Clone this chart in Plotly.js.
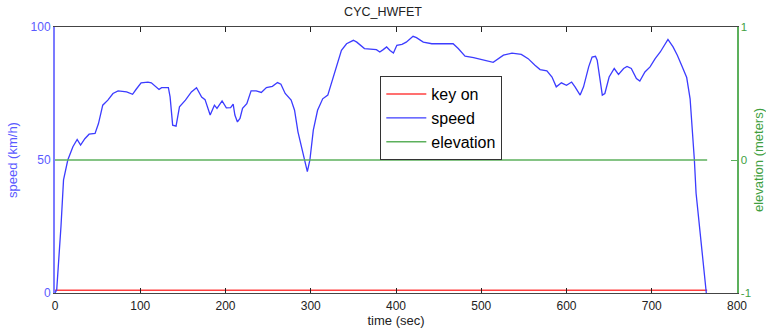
<!DOCTYPE html>
<html>
<head>
<meta charset="utf-8">
<script src="https://cdn.plot.ly/plotly-3.0.1.min.js"></script>
<style>html,body{margin:0;padding:0;background:#fff;}#chart{width:766px;height:333px;}</style>
</head>
<body>
<div id="chart"></div>
<script>
const timeSec = [0,2,7,10,15,21,26,30,35,40,47,51,56,62,68,74,84,91,95,101,109,113,122,125,133,135,138,142,146,153,160,166,172,176,182,187,190,196,201,206,209,211,214,217,220,225,230,236,242,248,255,261,265,270,277,281,285,289,293,296,299,303,308,314,320,328,336,342,350,354,363,377,381,385,389,393,397,401,407,412,420,424,432,442,455,467,473,481,491,504,514,526,536,547,555,563,569,577,583,588,594,600,606,610,616,620,626,630,634,636,639,642,645,650,656,661,667,671,676,682,686,692,698,704,710,714,719,725,730,735,741,745,747,750,752,756,760,764];
const speedKmh = [0,1.2,25,42.5,50,55,57.7,55.6,58,59.7,60,63.7,70.6,72.5,75,76,75.6,74.7,76.5,79,79.3,79,76.5,77.2,77.2,73.7,63.1,62.7,70,72.5,75.6,77.2,73.7,72.7,66.9,70.6,69.4,72.2,69.6,69.7,71,66.9,64.3,65.6,69.4,71.2,76,76,75.4,77.2,77.7,79.1,78.5,75,72.5,68.7,60.6,55,48.7,45.6,50,61.2,68.7,73,74.4,82.5,91.2,93.7,95,94.3,91.9,91.5,90.6,91.5,92.5,91.2,90.2,93.1,93.5,94.3,96.5,96,94.3,93.7,93.7,93.7,91.9,89,88.5,87.5,86.7,89.4,90.2,89.7,88.1,85.6,84,83.5,81.2,77.5,79,78.1,79.3,77.5,74.4,77.5,85,88.7,89,87.5,80,74.4,75,81.2,84.4,82.2,84.4,85.2,84.4,80.6,79.7,83.1,85,88.1,90.6,92.5,95.3,92.5,89.4,85.6,81,73,64,50,37.5,25,12.5,0];
const keyTime = [0,765];
const keyOn = [1,1];
const elevTime = [0,765];
const elevation = [0,0];
const xTicks = [0,100,200,300,400,500,600,700,800];
const yTicks = [0,50,100];
const y2Ticks = [-1,0,1];

const F = 'Liberation Sans, Arial, sans-serif';
const blue = '#5a5aff';
const green = '#3f9f3f';

const traces = [
  {x: keyTime, y: keyOn, name: 'key on', mode: 'lines', line: {color: '#ff4040', width: 1.5}, yaxis: 'y'},
  {x: timeSec, y: speedKmh, name: 'speed', mode: 'lines', line: {color: '#3c3cff', width: 1.3}, yaxis: 'y'},
  {x: elevTime, y: elevation, name: 'elevation', mode: 'lines', line: {color: '#5cb05c', width: 1.5}, yaxis: 'y2'}
];

const layout = {
  width: 766, height: 333,
  margin: {l: 55, r: 29, t: 27, b: 40},
  paper_bgcolor: '#fff', plot_bgcolor: '#fff',
  font: {family: F, size: 12, color: '#222'},
  title: {text: 'CYC_HWFET', font: {family: F, size: 12.5, color: '#222'}, x: 0.5, xanchor: 'center', y: 0.965, yanchor: 'middle'},
  showlegend: true,
  legend: {x: 0.477, y: 0.815, xanchor: 'left', yanchor: 'top', bgcolor: '#fff', bordercolor: '#333', borderwidth: 1,
           font: {family: F, size: 16, color: '#000'}, tracegroupgap: 0, itemwidth: 40},
  xaxis: {range: [0, 800], tickvals: xTicks, ticks: 'inside', ticklen: 5, tickcolor: '#222',
          showline: true, linecolor: '#444', linewidth: 1, mirror: 'ticks', showgrid: false, zeroline: false,
          tickfont: {family: F, size: 12, color: '#222'}, ticklabelstandoff: 2,
          title: {text: 'time (sec)', font: {family: F, size: 13, color: '#222'}, standoff: 3}},
  yaxis: {range: [0, 100], tickvals: yTicks, ticks: '', showline: true, linecolor: '#7b7bff', linewidth: 2,
          showgrid: false, zeroline: false, tickfont: {family: F, size: 12, color: blue},
          title: {text: 'speed (km/h)', font: {family: F, size: 13, color: blue}, standoff: 10}},
  yaxis2: {range: [-1, 1], tickvals: y2Ticks, ticktext: ['-1','0','1'], overlaying: 'y', side: 'right', ticks: 'inside', ticklen: 6,
           tickcolor: '#5cb05c', showline: true, linecolor: '#5cb05c', linewidth: 1.5, showgrid: false, zeroline: false,
           tickfont: {family: F, size: 11.5, color: green},
           title: {text: 'elevation (meters)', font: {family: F, size: 13, color: green}, standoff: 4}}
};

Plotly.newPlot('chart', traces, layout, {displayModeBar: false, staticPlot: true});
</script>
</body>
</html>
